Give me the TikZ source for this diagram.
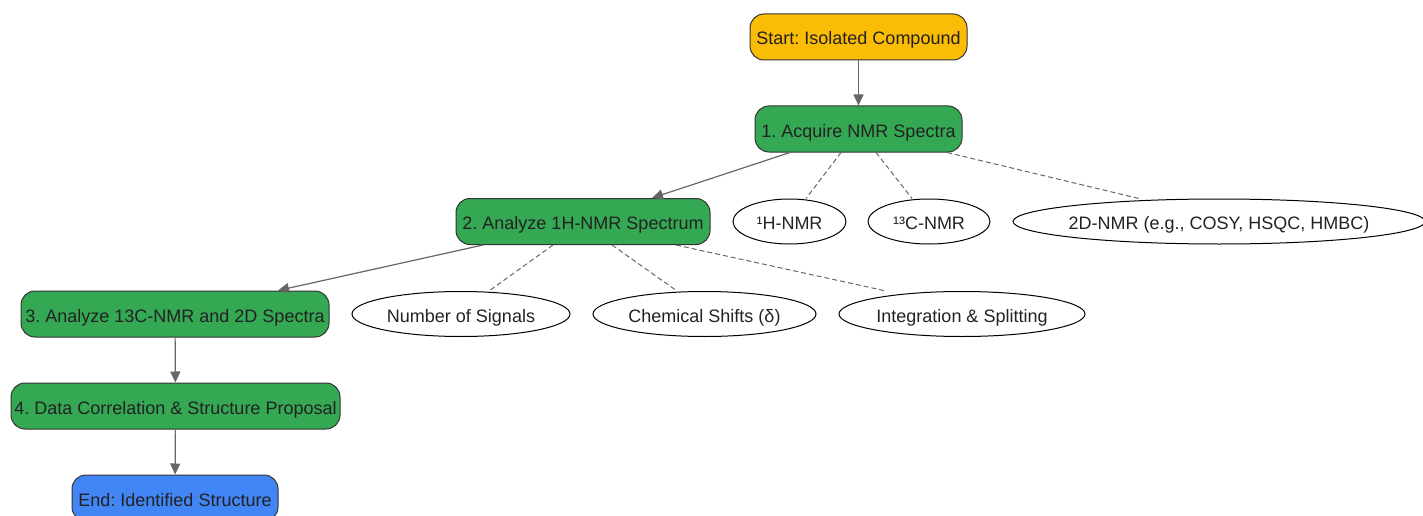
\documentclass[tikz,border=0pt]{standalone}
\usepackage{fontspec}
\setmainfont{Liberation Sans}
\usetikzlibrary{shapes.geometric,arrows.meta,calc}
\definecolor{cyellow}{HTML}{FBBC05}
\definecolor{cgreen}{HTML}{34A853}
\definecolor{cblue}{HTML}{4285F4}
\definecolor{ctext}{HTML}{222222}
\definecolor{cedge}{HTML}{666666}
\definecolor{cborder}{HTML}{333333}
\begin{document}
\frenchspacing
\begin{tikzpicture}[x=1pt,y=-1pt,
  box/.style={draw=cborder,line width=1pt,rounded corners=14pt,minimum height=46pt,inner sep=0pt,text=ctext,font=\fontsize{18}{21}\selectfont\frenchspacing,text height=17pt,text depth=1pt},
  oval/.style={draw=black,line width=1pt,ellipse,minimum height=45pt,inner sep=0pt,text=ctext,font=\fontsize{18}{21}\selectfont\frenchspacing,text height=17pt,text depth=1pt},
  flow/.style={draw=cedge,line width=1.2pt,-{Triangle[length=11pt,width=10pt]}},
  link/.style={draw=cedge,line width=1pt,dashed,dash pattern=on 5pt off 3pt}]
\useasboundingbox (0,0) rectangle (1423,516);
\node[box,fill=cyellow,minimum width=217pt] (start) at (858.5,37) {Start: Isolated Compound};
\node[box,fill=cgreen,minimum width=207pt] (acq) at (858.5,129) {1. Acquire NMR Spectra};
\node[box,fill=cgreen,minimum width=254pt] (h1) at (583,221.5) {2. Analyze 1H-NMR Spectrum};
\node[oval,minimum width=113pt] (hn) at (789.5,221.5) {¹H-NMR};
\node[oval,minimum width=122pt] (cn) at (929,221.5) {¹³C-NMR};
\node[oval,minimum width=412pt,inner xsep=-6pt] (dn) at (1219,221.5) {2D-NMR (e.g., COSY, HSQC, HMBC)};
\node[box,fill=cgreen,minimum width=308pt] (c13) at (175,314) {3. Analyze 13C-NMR and 2D Spectra};
\node[oval,minimum width=218pt] (ns) at (461,314) {Number of Signals};
\node[oval,minimum width=223pt] (cs) at (704.5,314) {Chemical Shifts (δ)};
\node[oval,minimum width=246pt] (is) at (962,314) {Integration \& Splitting};
\node[box,fill=cgreen,minimum width=329pt] (dc) at (175.5,406) {4. Data Correlation \& Structure Proposal};
\node[box,fill=cblue,minimum width=206pt] (end) at (175,498) {End: Identified Structure};

\draw[flow] (start) -- (acq);
\draw[flow] ($(acq.south)+(-68.5,0)$) -- ($(h1.north)+(69,0)$);
\draw[link] ($(acq.south)+(-17.5,0)$) -- ($(hn.north)+(16.5,0)$);
\draw[link] ($(acq.south)+(17.5,0)$) -- ($(cn.north)+(-17,0)$);
\draw[link] ($(acq.south)+(88.5,0)$) -- ($(dn.north)+(-80,0)$);
\draw[flow] ($(h1.south)+(-100,0)$) -- ($(c13.north)+(103,0)$);
\draw[link] ($(h1.south)+(-30,0)$) -- ($(ns.north)+(28,0)$);
\draw[link] ($(h1.south)+(29,0)$) -- ($(cs.north)+(-27.5,0)$);
\draw[link] ($(h1.south)+(93,0)$) -- ($(is.north)+(-76,0)$);
\draw[flow] (c13) -- (dc);
\draw[flow] (dc) -- (end);
\end{tikzpicture}
\end{document}
